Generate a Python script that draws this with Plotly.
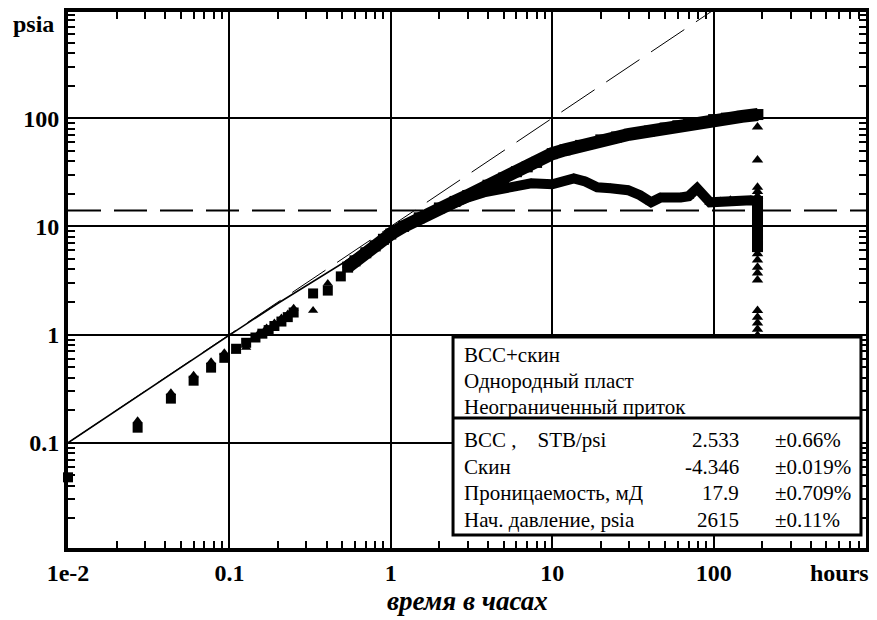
import plotly.graph_objects as go

# early, well separated points (hours, psia)
t_early = [0.01, 0.027, 0.0434, 0.060, 0.077, 0.093, 0.110, 0.127, 0.145, 0.16,
           0.175, 0.19, 0.21, 0.23, 0.25, 0.33, 0.407, 0.49]
dp_early = [0.048, 0.138, 0.256, 0.375, 0.495, 0.61, 0.74, 0.84, 0.94, 1.02,
            1.1, 1.2, 1.32, 1.45, 1.6, 2.4, 2.55, 3.45]

t_der_early = [0.027, 0.0434, 0.060, 0.077, 0.093, 0.110, 0.127, 0.15, 0.17,
               0.19, 0.21, 0.23, 0.25, 0.33, 0.407]
der_early = [0.16, 0.29, 0.42, 0.56, 0.68, 0.70, 0.76, 1.0, 1.15, 1.28, 1.42,
             1.55, 1.75, 1.67, 2.96]

# dense part of the pressure change curve
t_band = [0.54, 0.6, 0.7, 0.8, 0.9, 1.0, 1.2, 1.5, 2.0, 2.5, 3.0, 4.0, 5.0, 6.0,
          7.0, 8.0, 10, 12, 15, 20, 25, 30, 40, 50, 60, 70, 80, 100, 120, 150, 188]
dp_band = [4.2, 4.8, 5.7, 6.6, 7.6, 8.5, 10.0, 12.0, 14.8, 17.0, 19.3, 24, 28, 32,
           35.5, 39, 47, 51, 56, 63, 67, 71, 76, 81, 85, 88, 91, 97, 100, 104, 108]

# dense part of the derivative
t_der_band = [0.54, 0.7, 1.0, 1.5, 2.0, 2.5, 3.0, 3.77, 4.5, 5.5, 7.4, 10, 13.6,
              16, 19, 23, 29.5, 35, 41, 47, 55, 62.5, 70, 79, 95, 110, 127, 150,
              170, 186]
der_band = [4.4, 5.8, 8.4, 12, 14.5, 17, 18.5, 20.6, 21.5, 22.5, 25, 24.5, 27.8,
            26, 23, 22.5, 21.6, 19.4, 16.7, 18.5, 18, 18.5, 19, 22.5, 16.7, 17,
            17.4, 17, 17.4, 17]

# points at the end of the test
t_end_sq = [187, 187, 187, 187, 187, 187, 187, 187, 187]
dp_end = [17, 15.5, 14, 12.5, 11, 9.8, 8.6, 7.5, 6.5]
t_end_tri = [187, 187, 187, 187, 187, 187, 187, 187, 187, 187, 187, 187, 187,
             187, 187]
der_end = [83, 41, 23, 21, 19, 5.6, 4.9, 4.2, 3.7, 3.2, 1.67, 1.45, 1.28, 1.12,
           0.98]

# model curve
t_model = [0.01, 0.05, 0.1, 0.2, 0.3, 0.5, 0.7, 1.0, 1.5, 2, 3, 5, 10, 20, 50,
           100, 187]
p_model = [0.1, 0.5, 0.99, 1.95, 2.85, 4.6, 6.2, 8.5, 11.8, 14.6, 19.0, 27, 46,
           63, 80, 97, 108]

# straight lines: unit slope and radial flow
t_unit = [0.01, 100]
p_unit = [0.1, 1000]
t_radial = [0.01, 1000]
der_radial = [14, 14]

info_lines = ["ВСС+скин", "Однородный пласт", "Неограниченный приток"]
param_names = ["ВСС ,\u00a0\u00a0\u00a0\u00a0STB/psi", "Скин",
               "Проницаемость, мД", "Нач. давление, psia"]
param_values = ["2.533", "-4.346", "17.9", "2615"]
param_errors = ["±0.66%", "±0.019%", "±0.709%", "±0.11%"]

SERIF = "Liberation Serif, Times New Roman, serif"

fig = go.Figure()

fig.add_trace(go.Scatter(x=t_model, y=p_model, mode="lines",
                         line=dict(color="black", width=1.6)))
fig.add_trace(go.Scatter(x=t_unit, y=p_unit, mode="lines",
                         line=dict(color="black", width=1, dash="40px,14px")))
fig.add_trace(go.Scatter(x=t_radial, y=der_radial, mode="lines",
                         line=dict(color="black", width=2, dash="33px,13px")))

fig.add_trace(go.Scatter(x=t_band, y=dp_band, mode="lines+markers",
                         line=dict(color="black", width=13),
                         marker=dict(symbol="square", size=11, color="black")))
fig.add_trace(go.Scatter(x=t_der_band, y=der_band, mode="lines+markers",
                         line=dict(color="black", width=10),
                         marker=dict(symbol="triangle-up", size=10, color="black")))
fig.add_trace(go.Scatter(x=t_early, y=dp_early, mode="markers", cliponaxis=False,
                         marker=dict(symbol="square", size=10, color="black")))
fig.add_trace(go.Scatter(x=t_der_early, y=der_early, mode="markers",
                         marker=dict(symbol="triangle-up", size=9, color="black")))
fig.add_trace(go.Scatter(x=t_end_sq, y=dp_end, mode="markers",
                         marker=dict(symbol="square", size=11, color="black")))
fig.add_trace(go.Scatter(x=t_end_tri, y=der_end, mode="markers",
                         marker=dict(symbol="triangle-up", size=10, color="black")))

axis_common = dict(
    type="log",
    dtick=1,
    exponentformat="none",
    automargin=False,
    showgrid=True,
    gridcolor="black",
    gridwidth=1.5,
    showline=True,
    linecolor="black",
    linewidth=4,
    mirror="allticks",
    ticks="inside",
    ticklen=8,
    tickwidth=2,
    tickcolor="black",
    minor=dict(dtick="D1", ticks="inside", ticklen=7, tickwidth=2,
               tickcolor="black", showgrid=False),
    zeroline=False,
    ticklabelstandoff=0,
    tickfont=dict(family=SERIF, size=24, color="black", weight="bold"),
)

fig.update_xaxes(**axis_common, range=[-2, 2.944], labelalias={"0.01": "1e-2"})
fig.update_yaxes(**axis_common, range=[-1.972, 2.981])

label_font = dict(family=SERIF, size=24, color="black", weight="bold")
annotations = [
    dict(text="psia", x=-0.043, y=0.978, xref="paper", yref="paper",
         xanchor="center", yanchor="middle", showarrow=False, font=label_font),
    dict(text="hours", x=0.967, y=-0.047, xref="paper", yref="paper",
         xanchor="center", yanchor="middle", showarrow=False, font=label_font),
    dict(text="время в часах", x=0.5, y=-0.099, xref="paper", yref="paper",
         xanchor="center", yanchor="middle", showarrow=False,
         font=dict(family=SERIF, size=27, color="black", weight="bold",
                   style="italic")),
]

box_font = dict(family=SERIF, size=21, color="black")
info_y = [0.360, 0.3116, 0.263]
for txt, yy in zip(info_lines, info_y):
    annotations.append(dict(text=txt, x=0.4937, y=yy, xref="paper", yref="paper",
                            xanchor="left", yanchor="middle", showarrow=False,
                            font=box_font))

param_y = [0.2015, 0.151, 0.1026, 0.0522]
for name, val, err, yy in zip(param_names, param_values, param_errors, param_y):
    annotations.append(dict(text=name, x=0.4937, y=yy, xref="paper", yref="paper",
                            xanchor="left", yanchor="middle", showarrow=False,
                            font=box_font))
    annotations.append(dict(text=val, x=0.843, y=yy, xref="paper", yref="paper",
                            xanchor="right", yanchor="middle", showarrow=False,
                            font=box_font))
    annotations.append(dict(text=err, x=0.883, y=yy, xref="paper", yref="paper",
                            xanchor="left", yanchor="middle", showarrow=False,
                            font=box_font))

shapes = [
    dict(type="rect", xref="paper", yref="paper", x0=0.4825, x1=0.9937,
         y0=0.0243, y1=0.3937, fillcolor="white",
         line=dict(color="black", width=3), layer="above"),
    dict(type="line", xref="paper", yref="paper", x0=0.4825, x1=0.9937,
         y0=0.2425, y1=0.2425, line=dict(color="black", width=3), layer="above"),
]

# the page body has an 8px margin, so the figure is 8px smaller
# and the plot area still lands where it is in the reference
fig.update_layout(
    width=869,
    height=612,
    margin=dict(l=60, r=11, t=4, b=72),
    paper_bgcolor="white",
    plot_bgcolor="white",
    showlegend=False,
    annotations=annotations,
    shapes=shapes,
)

fig.write_html("out.html")
